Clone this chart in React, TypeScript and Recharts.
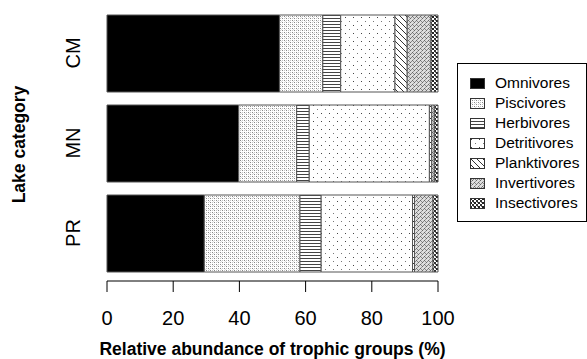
import { BarChart, Bar, XAxis, YAxis, Legend } from "recharts";

// lake categories, top to bottom
const categories = ["CM", "MN", "PR"];

// % relative abundance per trophic group
const omnivores    = [52.1, 39.8, 29.4];
const piscivores   = [13.1, 17.5, 28.9];
const herbivores   = [5.4, 3.8, 6.4];
const detritivores = [16.4, 36.3, 27.6];
const planktivores = [3.7, 0.7, 0.6];
const invertivores = [7.2, 0.8, 5.6];
const insectivores = [2.1, 1.1, 1.5];

const xTicks = [0, 20, 40, 60, 80, 100];

const groups = [
  { key: "Omnivores",    fill: "#000" },
  { key: "Piscivores",   fill: "url(#pat-pisc)" },
  { key: "Herbivores",   fill: "url(#pat-herb)" },
  { key: "Detritivores", fill: "url(#pat-detr)" },
  { key: "Planktivores", fill: "url(#pat-plank)" },
  { key: "Invertivores", fill: "url(#pat-invert)" },
  { key: "Insectivores", fill: "url(#pat-insect)" },
];

const data = categories.map((lake, i) => ({
  lake,
  Omnivores: omnivores[i],
  Piscivores: piscivores[i],
  Herbivores: herbivores[i],
  Detritivores: detritivores[i],
  Planktivores: planktivores[i],
  Invertivores: invertivores[i],
  Insectivores: insectivores[i],
}));

const FONT = "'Liberation Sans', Arial, sans-serif";

function LakeTick({ x, y, payload }: any) {
  // R style: labels rotated parallel to the axis
  return (
    <text
      x={x}
      y={y}
      transform={`rotate(-90, ${x}, ${y})`}
      textAnchor="middle"
      fontSize={20}
      fontFamily={FONT}
      fill="#000"
    >
      {payload.value}
    </text>
  );
}

function LegendBox() {
  return (
    <div style={{ paddingTop: 9, fontFamily: FONT, fontSize: 15.5, color: "#000" }}>
      {groups.map((g) => (
        <div key={g.key} style={{ height: 20, display: "flex", alignItems: "center" }}>
          <svg width={15} height={11} style={{ marginLeft: 12, marginRight: 10, flex: "none" }}>
            <rect x={0.5} y={0.5} width={14} height={10} fill={g.fill} stroke="#333" />
          </svg>
          <span style={{ lineHeight: "20px" }}>{g.key}</span>
        </div>
      ))}
    </div>
  );
}

export default function App() {
  return (
    <div style={{ position: "fixed", left: 0, top: 0, width: 587, height: 359, background: "#fff" }}>
      <BarChart
        width={587}
        height={359}
        data={data}
        layout="vertical"
        margin={{ top: 8, right: 19, bottom: 0, left: 0 }}
        barSize={77}
      >
        <defs>
          <pattern id="pat-pisc" patternUnits="userSpaceOnUse" width={4} height={4}>
            <rect width={4} height={4} fill="#fff" />
            <rect x={0} y={0} width={1} height={1} fill="#888" />
            <rect x={2} y={2} width={1} height={1} fill="#888" />
            <rect x={2} y={0} width={1} height={1} fill="#c4c4c4" />
            <rect x={0} y={2} width={1} height={1} fill="#c4c4c4" />
            <rect x={1} y={1} width={1} height={1} fill="#ddd" />
          </pattern>
          <pattern id="pat-herb" patternUnits="userSpaceOnUse" width={4} height={3}>
            <rect width={4} height={3} fill="#fff" />
            <rect x={0} y={0} width={4} height={1} fill="#444" />
          </pattern>
          <pattern id="pat-detr" patternUnits="userSpaceOnUse" width={8} height={8}>
            <rect width={8} height={8} fill="#fff" />
            <rect x={1} y={1} width={1} height={1} fill="#444" />
            <rect x={5} y={5} width={1} height={1} fill="#777" />
          </pattern>
          <pattern id="pat-plank" patternUnits="userSpaceOnUse" width={6} height={6}>
            <rect width={6} height={6} fill="#fff" />
            <path d="M0,0 L6,6 M-1,5 L1,7 M5,-1 L7,1" stroke="#333" strokeWidth={1} />
          </pattern>
          <pattern id="pat-invert" patternUnits="userSpaceOnUse" width={4} height={4}>
            <rect width={4} height={4} fill="#ddd" />
            <rect x={0} y={0} width={1} height={1} fill="#666" />
            <rect x={1} y={1} width={1} height={1} fill="#888" />
            <rect x={2} y={2} width={1} height={1} fill="#666" />
            <rect x={3} y={1} width={1} height={1} fill="#888" />
            <rect x={1} y={3} width={1} height={1} fill="#999" />
          </pattern>
          <pattern id="pat-insect" patternUnits="userSpaceOnUse" width={4} height={4}>
            <rect width={4} height={4} fill="#fff" />
            <rect x={0} y={0} width={2} height={2} fill="#222" />
            <rect x={2} y={2} width={2} height={2} fill="#333" />
            <rect x={3} y={0} width={1} height={1} fill="#777" />
          </pattern>
        </defs>

        <XAxis
          type="number"
          domain={[0, 100]}
          ticks={xTicks}
          height={78}
          tickSize={11}
          tickMargin={19}
          stroke="#000"
          tick={{ fill: "#000", fontSize: 20, fontFamily: FONT }}
          label={{
            value: "Relative abundance of trophic groups (%)",
            position: "insideBottom",
            offset: 4,
            style: { fontWeight: "bold", fontSize: 17.5, fill: "#000", fontFamily: FONT },
          }}
        />
        <YAxis
          type="category"
          dataKey="lake"
          width={107}
          axisLine={false}
          tickLine={false}
          tickSize={0}
          tickMargin={27}
          padding={{ top: 0, bottom: 3 }}
          tick={<LakeTick />}
          label={{
            value: "Lake category",
            angle: -90,
            position: "insideLeft",
            offset: 19,
            style: { textAnchor: "middle", fontWeight: "bold", fontSize: 17.5, fill: "#000", fontFamily: FONT },
          }}
        />
        <Legend
          layout="vertical"
          align="right"
          verticalAlign="middle"
          content={<LegendBox />}
          wrapperStyle={{
            left: 457,
            top: 63,
            right: "auto",
            width: 130,
            height: 159,
            border: "1px solid #000",
            boxSizing: "border-box",
            background: "#fff",
          }}
        />
        {groups.map((g) => (
          <Bar
            key={g.key}
            dataKey={g.key}
            stackId="a"
            fill={g.fill}
            stroke="#555"
            strokeWidth={1}
            isAnimationActive={false}
          />
        ))}
      </BarChart>
    </div>
  );
}
